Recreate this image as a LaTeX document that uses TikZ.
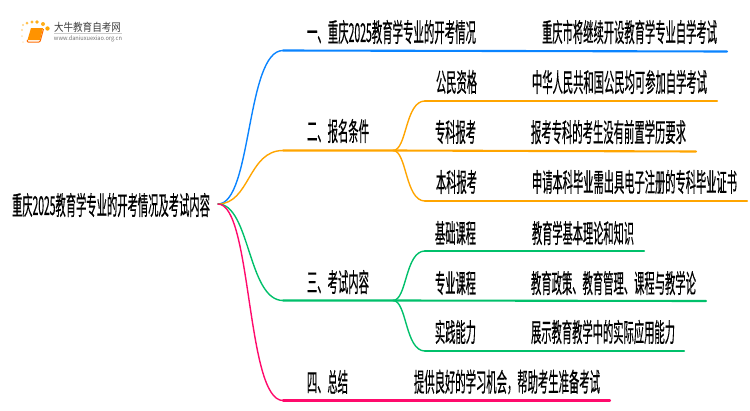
\documentclass[tikz,border=0pt]{standalone}
\usepackage{fontspec}
\usepackage{graphicx}
\newfontfamily\cjk{Noto Sans CJK SC}
\newfontfamily\cjkb[FakeBold=0.6]{Noto Sans CJK SC}
\newcommand{\lbl}[2]{\resizebox{#1pt}{\height}{\fontsize{26pt}{26pt}\cjkb #2}}
\definecolor{cblue}{HTML}{0A84FF}
\definecolor{corange}{HTML}{FFA500}
\definecolor{cgreen}{HTML}{00C06B}
\definecolor{cpink}{HTML}{FF0A6C}
\tikzset{
  txt/.style={anchor=west,inner sep=0pt,outer sep=0pt,text=black},
  curve/.style={line width=1.4pt,line cap=round},
  rule/.style={line width=2.1pt,line cap=round},
}
\begin{document}
\begin{tikzpicture}[x=1pt,y=-1pt]
\useasboundingbox[fill=white] (0,0) rectangle (750,410);
% logo
\foreach \a/\b/\r/\o in {23/25/1.2/.5,27/23/1.5/.7,32/22/1.7/.8,37/22/1.8/.9,43/24/2/.9,47.5/28.5/2.2/1,22/30/1.2/.4,22/36/1/.3,23/42/1/.2}
  \fill[orange!70!yellow,opacity=\o] (\a,\b) circle (\r);
\fill[orange!85!yellow] (31,28) -- (43,28) -- (40,40) -- (27.5,40) -- cycle;
\draw[orange!85!red,line width=1pt,rounded corners=1pt] (27.5,40) -- (27,42) -- (40,42) -- (43.5,29);
\node[inner sep=0pt] (logoa) at (87.5,27) {\resizebox{67pt}{\height}{\fontsize{11pt}{11pt}\cjk\color{black!75}大牛教育自考网}};
\draw[black!20,line width=.5pt] (54,33.3) -- (122,33.3);
\node[inner sep=0pt] (logob) at (88,39) {\resizebox{68pt}{\height}{\fontsize{6pt}{6pt}\cjk\color{black!55}www.daniuxuexiao.org.cn}};
% text
\node[txt] (root) at (12,205) {\lbl{198}{重庆2025教育学专业的开考情况及考试内容}};
\node[txt] (n1) at (307,32) {\lbl{169}{一、重庆2025教育学专业的开考情况}};
\node[txt] (n2) at (307,131) {\lbl{62}{二、报名条件}};
\node[txt] (n3) at (307,282) {\lbl{62}{三、考试内容}};
\node[txt] (n4) at (307,382) {\lbl{41}{四、总结}};
\node[txt] (d1) at (542,32) {\lbl{175}{重庆市将继续开设教育学专业自学考试}};
\node[txt] (a1) at (436,82) {\lbl{41}{公民资格}};
\node[txt] (a2) at (435,132) {\lbl{41}{专科报考}};
\node[txt] (a3) at (436,182) {\lbl{41}{本科报考}};
\node[txt] (e1) at (532,82) {\lbl{175}{中华人民共和国公民均可参加自学考试}};
\node[txt] (e2) at (531,132) {\lbl{155}{报考专科的考生没有前置学历要求}};
\node[txt] (e3) at (532,182) {\lbl{205}{申请本科毕业需出具电子注册的专科毕业证书}};
\node[txt] (b1) at (435,233) {\lbl{41}{基础课程}};
\node[txt] (b2) at (435,283) {\lbl{41}{专业课程}};
\node[txt] (b3) at (435,332) {\lbl{41}{实践能力}};
\node[txt] (f1) at (532,233) {\lbl{102}{教育学基本理论和知识}};
\node[txt] (f2) at (531,283) {\lbl{165}{教育政策、教育管理、课程与教学论}};
\node[txt] (f3) at (531,332) {\lbl{144}{展示教育教学中的实际应用能力}};
\node[txt] (g1) at (414,382) {\lbl{186}{提供良好的学习机会，帮助考生准备考试}};
% junctions
\coordinate (o) at (218,204);
\coordinate (j1) at (283,50.5); \coordinate (k1) at (727,51.5);
\coordinate (j2) at (283,150.5); \coordinate (s2) at (393,150.5);
\coordinate (j3) at (283,300.5); \coordinate (s3) at (393,300.5);
\coordinate (j4) at (283,400.5); \coordinate (k4) at (610,400.5);
\coordinate (p1) at (425,101); \coordinate (q1) at (717,101);
\coordinate (q2) at (696,151.5);
\coordinate (p3) at (425,201); \coordinate (q3) at (747,201);
\coordinate (p4) at (425,251); \coordinate (q4) at (644,251);
\coordinate (q5) at (706,301);
\coordinate (p6) at (425,351); \coordinate (q6) at (684,351);
% connectors
\draw[curve,cblue] (o) .. controls (252,204) and (246,50.5) .. (j1);
\draw[rule,cblue] (j1) -- (k1);
\draw[curve,corange] (o) .. controls (250,204) and (248,150.5) .. (j2);
\draw[rule,corange] (j2) -- (s2) -- (q2);
\draw[curve,corange] (s2) .. controls (407,150.5) and (405,101) .. (p1);
\draw[rule,corange] (p1) -- (q1);
\draw[curve,corange] (s2) .. controls (407,150.5) and (405,201) .. (p3);
\draw[rule,corange] (p3) -- (q3);
\draw[curve,cgreen] (o) .. controls (250,204) and (248,300.5) .. (j3);
\draw[rule,cgreen] (j3) -- (s3) -- (q5);
\draw[curve,cgreen] (s3) .. controls (407,300.5) and (405,251) .. (p4);
\draw[rule,cgreen] (p4) -- (q4);
\draw[curve,cgreen] (s3) .. controls (407,300.5) and (405,351) .. (p6);
\draw[rule,cgreen] (p6) -- (q6);
\draw[curve,cpink] (o) .. controls (252,204) and (246,400.5) .. (j4);
\draw[rule,cpink] (j4) -- (k4);
\end{tikzpicture}
\end{document}
